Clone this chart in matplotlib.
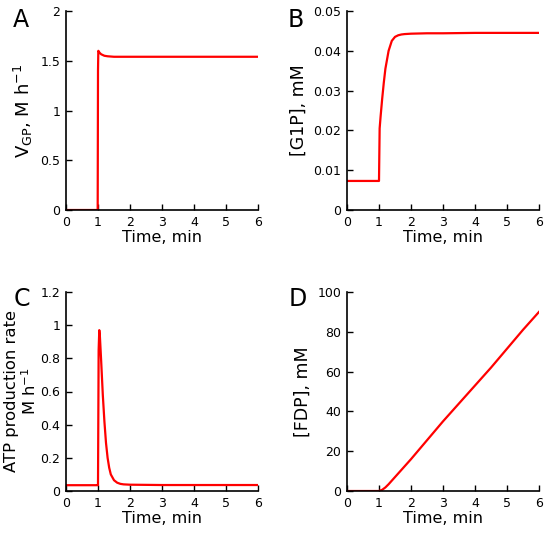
import matplotlib

matplotlib.use("Agg")
import matplotlib.pyplot as plt

plt.rcParams["mathtext.default"] = "regular"
plt.rcParams["font.family"] = "DejaVu Sans"

# values
t_a = [0, 0.99, 1.0, 1.01, 1.05, 1.1, 1.2, 1.3, 1.5, 2, 3, 4, 5, 6]
vgp = [0, 0, 1.4, 1.6, 1.58, 1.565, 1.55, 1.545, 1.54, 1.54, 1.54, 1.54, 1.54, 1.54]

t_b = [0, 0.99, 1.0, 1.02, 1.05, 1.1, 1.15, 1.2, 1.3, 1.4, 1.5, 1.6, 1.7, 1.8, 2, 2.5, 3, 4, 5, 6]
g1p = [0.0073, 0.0073, 0.0073, 0.0205, 0.0235, 0.028, 0.032, 0.0355, 0.040, 0.0425, 0.0435,
       0.0439, 0.0441, 0.0442, 0.0443, 0.0444, 0.0444, 0.0445, 0.0445, 0.0445]

t_c = [0, 0.99, 1.0, 1.02, 1.04, 1.06, 1.1, 1.15, 1.2, 1.25, 1.3, 1.35, 1.4, 1.5, 1.6, 1.7, 1.8, 2, 3, 4, 5, 6]
atp = [0.035, 0.035, 0.035, 0.85, 0.97, 0.93, 0.78, 0.58, 0.42, 0.29, 0.2, 0.14, 0.1, 0.065, 0.05,
       0.043, 0.04, 0.038, 0.036, 0.036, 0.036, 0.036]

t_d = [0, 1.0, 1.1, 1.2, 1.3, 1.5, 2, 2.5, 3, 3.5, 4, 4.5, 5, 5.5, 6]
fdp = [0, 0, 0.6, 1.8, 3.4, 7.0, 16.0, 25.5, 35.0, 44.0, 53.0, 62.0, 71.5, 81.0, 90.0]

time_ticks = [0, 1, 2, 3, 4, 5, 6]

panels = [
    ("A", t_a, vgp, (0, 2), [0, 0.5, 1, 1.5, 2], ["0", "0.5", "1", "1.5", "2"],
     "V$_{GP}$, M h$^{-1}$", 13, 4),
    ("B", t_b, g1p, (0, 0.05), [0, 0.01, 0.02, 0.03, 0.04, 0.05],
     ["0", "0.01", "0.02", "0.03", "0.04", "0.05"], "[G1P], mM", 12.5, 4),
    ("C", t_c, atp, (0, 1.2), [0, 0.2, 0.4, 0.6, 0.8, 1, 1.2],
     ["0", "0.2", "0.4", "0.6", "0.8", "1", "1.2"], "ATP production rate\nM h$^{-1}$", 11.8, 1),
    ("D", t_d, fdp, (0, 100), [0, 20, 40, 60, 80, 100],
     ["0", "20", "40", "60", "80", "100"], "[FDP], mM", 12.5, 4),
]

# axes positions in pixels (left, top, right, bottom) of a 550x533 figure
boxes = {
    "A": (66, 11, 258, 210),
    "B": (347, 11, 539, 210),
    "C": (66, 292, 258, 491),
    "D": (347, 292, 539, 491),
}
letter_pos = {"A": (13, 27), "B": (288, 27), "C": (14, 306), "D": (289, 306)}

W, H = 550, 533
fig = plt.figure(figsize=(W / 100, H / 100), dpi=100)

for letter, x, y, ylim, yticks, ylabels, ylabel, ysize, ypad in panels:
    l, t, r, b = boxes[letter]
    ax = fig.add_axes([l / W, 1 - b / H, (r - l) / W, (b - t) / H])
    ax.plot(x, y, color="#ff0000", lw=1.6)
    ax.set_xlim(0, 6)
    ax.set_ylim(*ylim)
    ax.set_xticks(time_ticks)
    ax.set_yticks(yticks)
    ax.set_yticklabels(ylabels)
    ax.spines["top"].set_visible(False)
    ax.spines["right"].set_visible(False)
    for s in ("left", "bottom"):
        ax.spines[s].set_linewidth(1.2)
    ax.tick_params(direction="in", length=4, width=1, labelsize=9, pad=4)
    ax.set_xlabel("Time, min", fontsize=11.5, labelpad=1)
    ax.set_ylabel(ylabel, fontsize=ysize, labelpad=ypad, linespacing=1.1)
    lx, ly = letter_pos[letter]
    fig.text(lx / W, 1 - ly / H, letter, fontsize=17, ha="left", va="baseline")

fig.savefig("out.png", dpi=100)
